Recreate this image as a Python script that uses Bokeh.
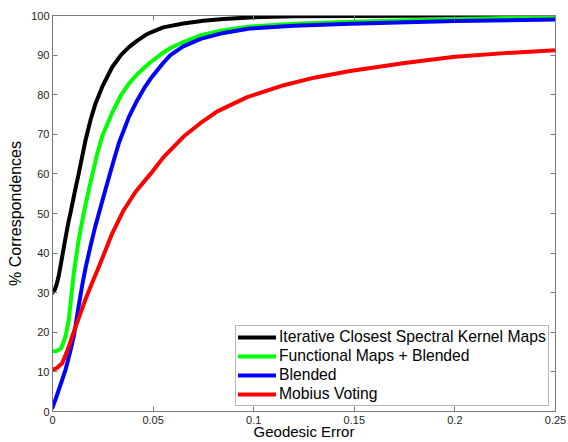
from bokeh.plotting import figure
from bokeh.models import Range1d, LinearAxis, Legend, LegendItem, FixedTicker
from bokeh.embed import file_html
from bokeh.resources import INLINE

# ---- data ----
icskm_x = [0, 0.001, 0.002, 0.003, 0.004, 0.005, 0.006, 0.007, 0.008, 0.009,
           0.011, 0.013, 0.0148, 0.0164, 0.019, 0.0214, 0.025, 0.0297, 0.034, 0.038,
           0.042, 0.046, 0.0487, 0.055, 0.065, 0.075, 0.085, 0.098, 0.12, 0.15,
           0.2, 0.25]
icskm_y = [30, 30.6, 32, 34, 36.8, 39.6, 42.5, 45.3, 48, 50.3,
           55.3, 60, 64.5, 68.5, 73.8, 77.8, 82.3, 87, 90, 92,
           93.6, 95, 95.7, 97, 98, 98.7, 99.1, 99.5, 99.8, 99.9,
           100, 100]

fmb_x = [0, 0.002, 0.004, 0.005, 0.0065, 0.0081, 0.0094, 0.0106, 0.013, 0.0155,
         0.018, 0.0222, 0.0247, 0.0297, 0.034, 0.038, 0.042, 0.046, 0.0487, 0.055,
         0.0586, 0.065, 0.0736, 0.085, 0.098, 0.12, 0.148, 0.2, 0.25]
fmb_y = [15.2, 15.3, 15.8, 16.8, 19, 23.2, 29.5, 35, 43.3, 50,
         55.9, 65, 69.5, 75.5, 79.8, 82.8, 85.1, 87, 88.2, 90.6,
         91.8, 93.3, 95, 96.3, 97.2, 97.9, 98.4, 99.1, 99.6]

blend_x = [0, 0.002, 0.004, 0.0065, 0.0085, 0.0106, 0.0128, 0.0148, 0.0164, 0.019,
           0.0214, 0.0263, 0.0305, 0.033, 0.038, 0.042, 0.046, 0.0487, 0.055, 0.0586,
           0.065, 0.0736, 0.085, 0.098, 0.12, 0.148, 0.2, 0.25]
blend_y = [1, 3.8, 6.8, 10.6, 14.5, 19, 26, 32, 36.2, 42,
           47, 56, 63.5, 67.8, 74.4, 78.5, 82, 84, 88, 90,
           92.2, 94.1, 95.6, 96.7, 97.4, 97.9, 98.6, 99]

mobius_x = [0, 0.002, 0.0048, 0.0075, 0.0098, 0.013, 0.0165, 0.0197, 0.023, 0.0297,
            0.035, 0.0413, 0.0487, 0.0553, 0.0653, 0.0735, 0.0819, 0.0968, 0.115, 0.13,
            0.148, 0.175, 0.2, 0.225, 0.25]
mobius_y = [10.6, 10.9, 12.2, 15.5, 19, 23.5, 28.5, 32.5, 36.5, 45,
            50.5, 55.5, 60, 64.3, 69.5, 72.8, 75.8, 79.4, 82.4, 84.3,
            86, 88, 89.6, 90.5, 91.2]

series_names = ["Iterative Closest Spectral Kernel Maps", "Functional Maps + Blended",
                "Blended", "Mobius Voting"]
series_colors = ["#000000", "#00ff00", "#0000ff", "#ff0000"]

x_ticks = [0, 0.05, 0.1, 0.15, 0.2, 0.25]
x_tick_labels = ["0", "0.05", "0.1", "0.15", "0.2", "0.25"]
y_ticks = [0, 10, 20, 30, 40, 50, 60, 70, 80, 90, 100]
y_tick_labels = ["0", "10", "20", "30", "40", "50", "60", "70", "80", "90", "100"]

x_title = "Geodesic Error"
y_title = "% Correspondences"

FONT = "Liberation Sans"
AX = "#7a7a7a"
TXT = "#1e1e1e"

p = figure(width=568, height=442, output_backend="svg", toolbar_location=None,
           x_range=Range1d(0, 0.25), y_range=Range1d(0, 100),
           min_border_left=52, min_border_right=13, min_border_top=15, min_border_bottom=30)
p.grid.grid_line_color = None
p.outline_line_color = AX
p.background_fill_color = "white"
p.border_fill_color = "white"

p.xaxis.ticker = FixedTicker(ticks=x_ticks)
p.xaxis.major_label_overrides = {t: l for t, l in zip(x_ticks, x_tick_labels)}
p.yaxis.ticker = FixedTicker(ticks=y_ticks)
p.yaxis.major_label_overrides = {t: l for t, l in zip(y_ticks, y_tick_labels)}
p.xaxis.major_label_standoff = 4
p.yaxis.major_label_standoff = 3

p.xaxis.axis_label = x_title
p.yaxis.axis_label = y_title
p.xaxis.axis_label_standoff = -4
p.yaxis.axis_label_standoff = 4
p.xaxis.axis_label_text_font_size = "15px"
p.yaxis.axis_label_text_font_size = "16px"

for ax in list(p.xaxis) + list(p.yaxis):
    ax.axis_line_color = AX
    ax.major_tick_line_color = AX
    ax.major_tick_in = 5
    ax.major_tick_out = 0
    ax.minor_tick_line_color = None
    ax.major_label_text_font = FONT
    ax.major_label_text_font_size = "11px"
    ax.major_label_text_color = TXT
    ax.axis_label_text_font = FONT
    ax.axis_label_text_font_style = "normal"
    ax.axis_label_text_color = "#000000"

top = LinearAxis(ticker=FixedTicker(ticks=x_ticks), major_label_text_font_size="1px",
                 major_label_text_color=None,
                 axis_line_color=AX, major_tick_line_color=AX, major_tick_in=5,
                 major_tick_out=0, minor_tick_line_color=None, major_label_standoff=0)
right = LinearAxis(ticker=FixedTicker(ticks=y_ticks), major_label_text_font_size="1px",
                   major_label_text_color=None,
                   axis_line_color=AX, major_tick_line_color=AX, major_tick_in=5,
                   major_tick_out=0, minor_tick_line_color=None, major_label_standoff=0)
p.add_layout(top, "above")
p.add_layout(right, "right")

xs = [icskm_x, fmb_x, blend_x, mobius_x]
ys = [icskm_y, fmb_y, blend_y, mobius_y]
items = []
for x, y, name, col in zip(xs, ys, series_names, series_colors):
    r = p.line(x, y, line_color=col, line_width=4, line_join="round", line_cap="round")
    items.append(LegendItem(label=name, renderers=[r]))

legend = Legend(items=items, location=(183, 5), padding=2, spacing=1,
                label_height=18, glyph_height=18, glyph_width=38, label_standoff=3,
                margin=0, border_line_color="#6e6e6e", border_line_width=1,
                background_fill_color="white", background_fill_alpha=1,
                label_text_font=FONT, label_text_font_size="15.7px", label_text_color="#000000")
p.add_layout(legend, "center")

open("out.html", "w").write(file_html(p, INLINE))
